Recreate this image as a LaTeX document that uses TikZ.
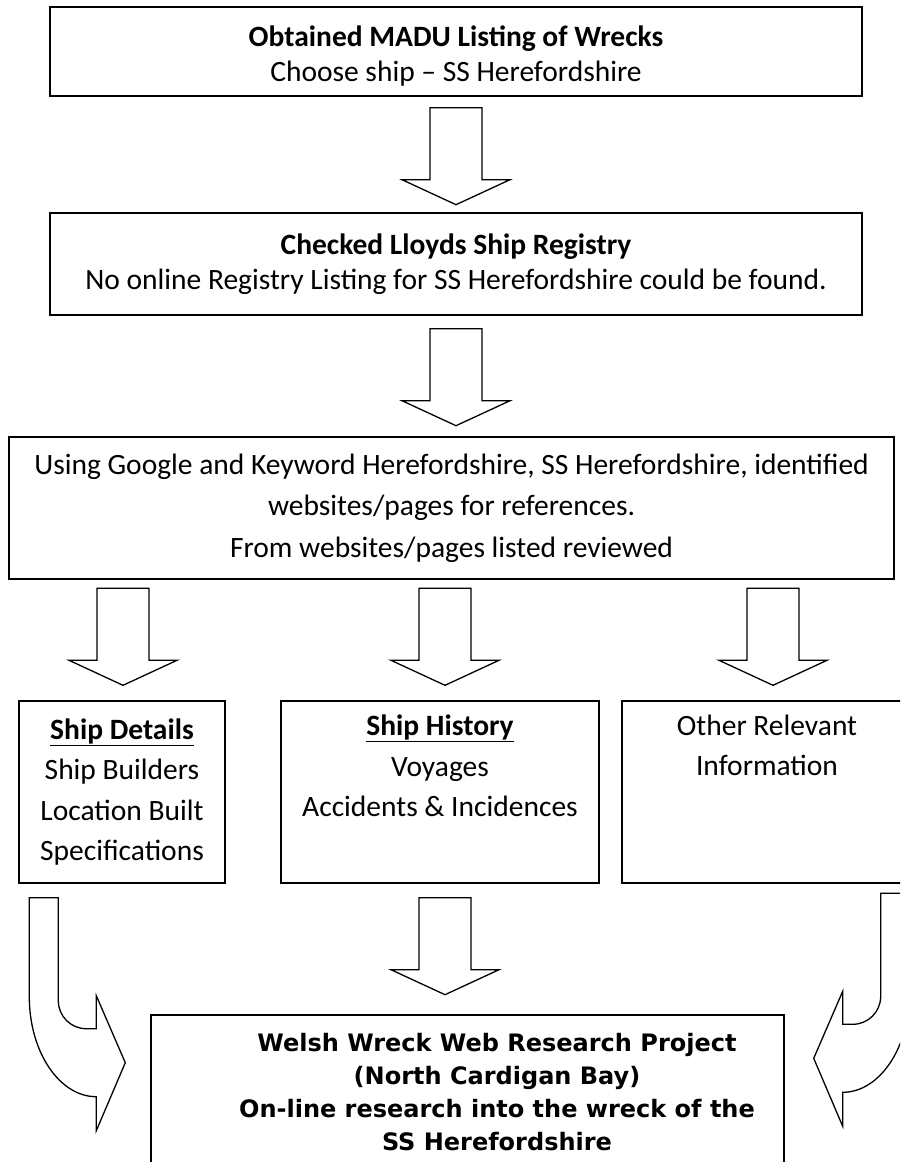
\documentclass[tikz,border=0pt]{standalone}
\usepackage{fontspec}
\setmainfont{Carlito}
\newfontfamily\projfont{DejaVu Sans}
\usetikzlibrary{positioning}

\begin{document}
\begin{tikzpicture}[x=1pt, y=-1pt,
  box/.style={draw, line width=1.4pt, align=center, inner sep=0pt,
    font=\fontsize{29.5}{35}\selectfont},
  wide/.style={box, font=\fontsize{29.5}{41.5}\selectfont},
  col/.style={box, font=\fontsize{29.5}{40.5}\selectfont, minimum height=182},
  flow/.style={draw, line width=1.3pt, fill=white, line join=miter},
  downarrow/.pic={\draw[flow] (-26,0) -- (26,0) -- (26,72) -- (54,72) -- (0,97)
    -- (-54,72) -- (-26,72) -- cycle;},
  bendarrow/.pic={\draw[flow] (0,0) -- (29,0) -- (29,103)
    .. controls (29,118.5) and (41.5,131) .. (57,131) -- (67,131) -- (67,98)
    -- (96,165) -- (67,233) -- (67,199)
    .. controls (30,199) and (0,154) .. (0,99) -- cycle;}
]
  \useasboundingbox (0,0) rectangle (900,1162);
  \clip (0,0) rectangle (900,1162);

  \node[box, minimum width=812, minimum height=89] (madu) at (456,51.5)
    {\rule{0pt}{30pt}\textbf{Obtained MADU Listing of Wrecks}\\Choose ship -- SS Herefordshire};
  \node[box, minimum width=812, minimum height=102] (lloyds) at (456,264)
    {\textbf{Checked Lloyds Ship Registry}\\No online Registry Listing for SS Herefordshire could be found.};
  \node[wide, minimum width=885, minimum height=142] (search) at (451.5,508)
    {Using Google and Keyword Herefordshire, SS Herefordshire, identified\\websites/pages for references.\\From websites/pages listed reviewed};
  \node[col, minimum width=206] (details) at (122,792)
    {\underline{\textbf{Ship Details}}\\Ship Builders\\Location Built\\Specifications};
  \node[col, minimum width=318] (history) at (440,792)
    {\underline{\textbf{Ship History}}\\Voyages\\Accidents \& Incidences\\\strut};
  \node[col, minimum width=290] (other) at (767,792)
    {Other Relevant\\Information\\\strut\\\strut};
  \node[box, minimum width=633, minimum height=155] (project) at (467.5,1092.5) {};
  \node[font=\projfont\bfseries\fontsize{24}{33}\selectfont, align=center] (projtext) at (497,1092.5)
    {Welsh Wreck Web Research Project\\(North Cardigan Bay)\\On-line research into the wreck of the\\SS Herefordshire};

  \path (madu.south) ++(0,11) pic {downarrow};
  \path (lloyds.south) ++(0,13) pic {downarrow};
  \path (details.north) ++(1,-112) pic {downarrow};
  \path (history.north) ++(5,-112) pic {downarrow};
  \path (other.north) ++(6,-112) pic {downarrow};
  \path (history.south) ++(5,14) pic {downarrow};
  \path (details.south west) ++(11,14) pic {bendarrow};
  \path (project.north east) ++(125,-121) pic[xscale=-1] {bendarrow};
\end{tikzpicture}
\end{document}
